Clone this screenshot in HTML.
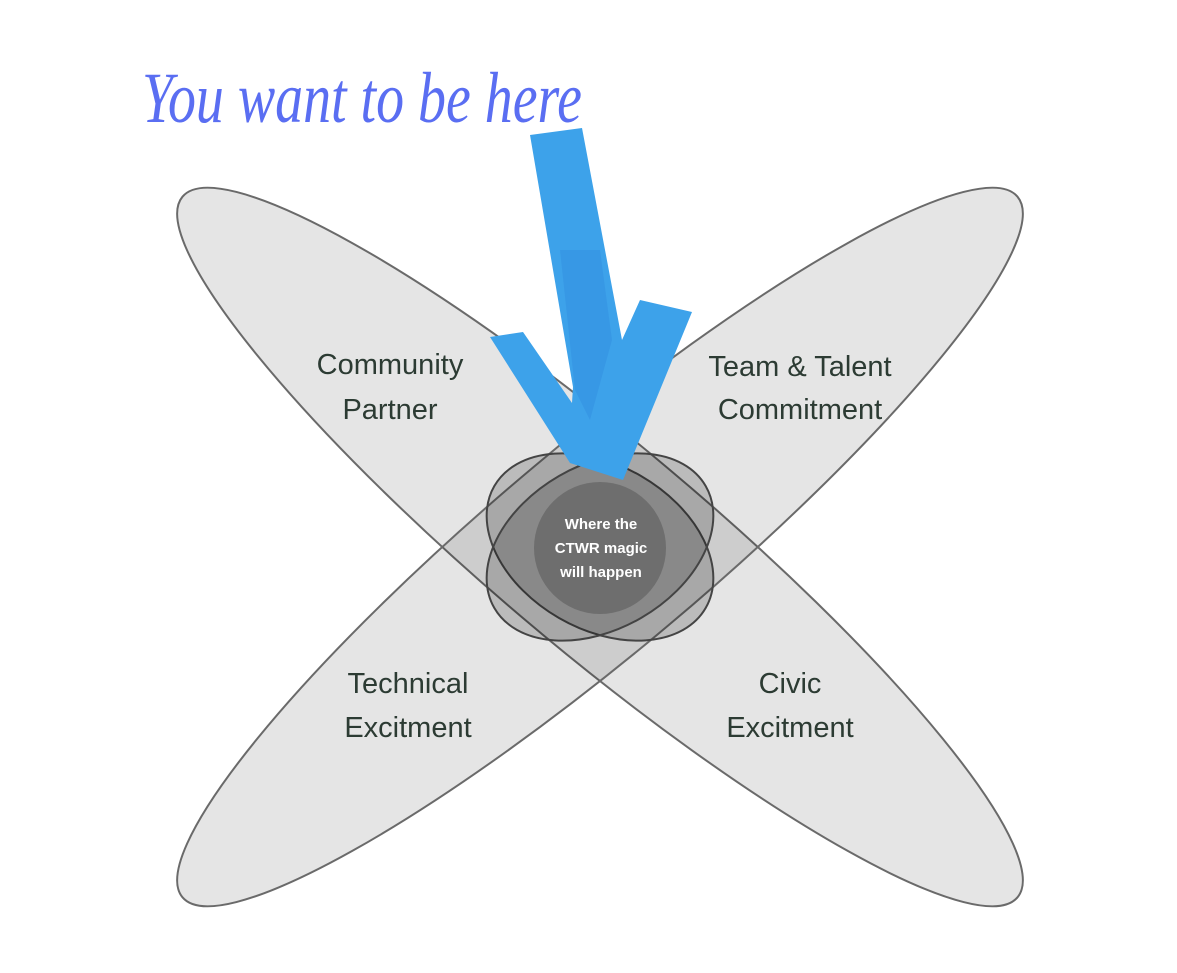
<!DOCTYPE html>
<html><head><meta charset="utf-8"><style>
html,body{margin:0;padding:0;background:#fff;width:1177px;height:973px;overflow:hidden}
</style></head><body>
<svg width="1177" height="973" viewBox="0 0 1177 973" xmlns="http://www.w3.org/2000/svg">
<g stroke="#6a6a6a" stroke-width="2">
<ellipse cx="600" cy="547" rx="545" ry="104" transform="rotate(40 600 547)" fill="rgba(0,0,0,0.10)"/>
<ellipse cx="600" cy="547" rx="545" ry="104" transform="rotate(-40 600 547)" fill="rgba(0,0,0,0.10)"/>
<ellipse cx="600" cy="547" rx="122" ry="82" transform="rotate(30 600 547)" fill="rgba(0,0,0,0.18)" stroke="#444"/>
<ellipse cx="600" cy="547" rx="122" ry="82" transform="rotate(-30 600 547)" fill="rgba(0,0,0,0.18)" stroke="#444"/>
</g>
<circle cx="600" cy="548" r="66" fill="rgba(60,60,60,0.35)"/>
<polygon points="530,135 582,128 622,340 640,300 692,312 623,480 570,463 490,337 523,332 572,403 573,387" fill="#3da2ea"/>
<polygon points="560,250 600,250 612,340 590,420 575,390" fill="#2e86dc" opacity="0.35"/>
<text x="142" y="122" font-family="Liberation Serif, serif" font-style="italic" font-size="72" fill="#5a6ef2" textLength="440" lengthAdjust="spacingAndGlyphs">You want to be here</text>
<g font-family="Liberation Sans, sans-serif" font-size="29" fill="#2c3b33" text-anchor="middle">
<text x="390" y="374">Community</text><text x="390" y="419">Partner</text>
<text x="800" y="376">Team &amp; Talent</text><text x="800" y="419">Commitment</text>
<text x="408" y="693">Technical</text><text x="408" y="737">Excitment</text>
<text x="790" y="693">Civic</text><text x="790" y="737">Excitment</text>
</g>
<g font-family="Liberation Sans, sans-serif" font-size="15" font-weight="bold" fill="#fff" text-anchor="middle">
<text x="601" y="529">Where the</text><text x="601" y="553">CTWR magic</text><text x="601" y="577">will happen</text>
</g>
</svg>
</body></html>
